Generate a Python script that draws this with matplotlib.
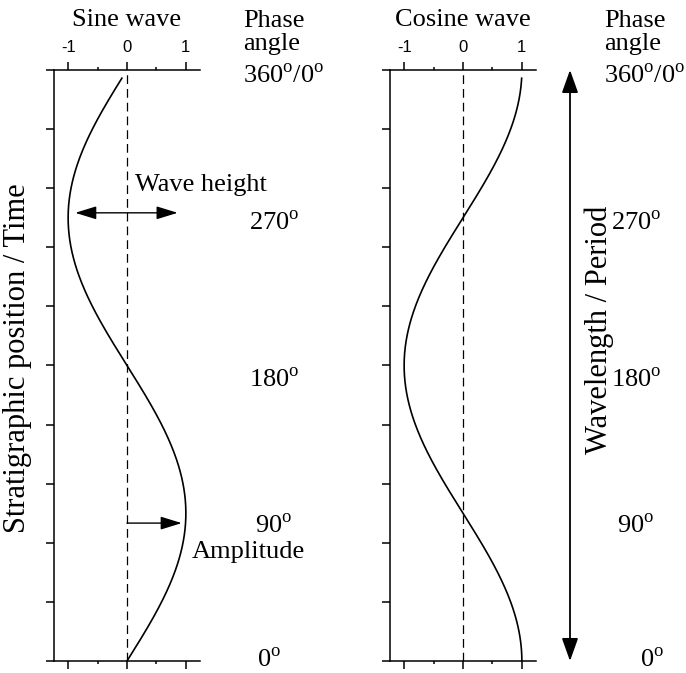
"""
Sine and cosine wave: phase angle vs. stratigraphic position
"""

import numpy as np
import matplotlib.pyplot as plt
import matplotlib.transforms as mtransforms

plt.rcParams["font.family"] = ["Liberation Serif", "DejaVu Serif"]
plt.rcParams["mathtext.fontset"] = "custom"
plt.rcParams["mathtext.rm"] = "Liberation Serif"
plt.rcParams["axes.unicode_minus"] = False

W, H = 686, 673

# phase angle (degrees) and the two waves
phase_deg = np.linspace(0, 355, 400)
sine_vals = np.sin(np.radians(phase_deg))
cosine_vals = np.cos(np.radians(phase_deg))

amp_ticks = [-1, 0, 1]
amp_labels = ["-1", "0", "1"]
amp_minor = [-0.5, 0.5]
phase_ticks = np.arange(0, 361, 36)

# phase labels (text, baseline y in px)
phase_labels = ["360$^{\\mathrm{o}}$/0$^{\\mathrm{o}}$", "270$^{\\mathrm{o}}$",
                "180$^{\\mathrm{o}}$", "90$^{\\mathrm{o}}$", "0$^{\\mathrm{o}}$"]
phase_label_y = [83, 230, 387, 533, 667]

wave_height_phase = 273
amplitude_phase = 84

SERIF = 19


def fx(px):
    return px / W


def fy(py):
    return 1 - py / H


fig = plt.figure(figsize=(W / 100, H / 100), dpi=100)

ax1 = fig.add_axes([fx(54), fy(661), (200 - 54) / W, (661 - 70) / H])
ax2 = fig.add_axes([fx(390), fy(661), (536 - 390) / W, (661 - 70) / H])

for ax, vals, title in [(ax1, sine_vals, "Sine wave"), (ax2, cosine_vals, "Cosine wave")]:
    ax.plot(vals, phase_deg, color="k", lw=1.2)
    ax.axvline(0, color="k", lw=0.9, dashes=(7, 4))
    ax.set_xlim(-1.24, 1.24)
    ax.set_ylim(0, 360)
    ax.spines["right"].set_visible(False)
    for s in ["left", "top", "bottom"]:
        ax.spines[s].set_linewidth(1.1)
    ax.set_xticks(amp_ticks)
    ax.set_xticks(amp_minor, minor=True)
    ax.tick_params(axis="x", which="both", top=True, bottom=True, labeltop=True,
                   labelbottom=False, direction="out", width=1.1)
    ax.tick_params(axis="x", which="major", length=6, pad=5)
    ax.tick_params(axis="x", which="minor", length=2)
    ax.set_xticklabels(amp_labels, family="Liberation Sans", fontsize=12)
    for t in ax.xaxis.get_major_ticks():
        t.label2.set_fontsize(12)
        t.label2.set_family("Liberation Sans")
    ax.set_yticks(phase_ticks)
    ax.tick_params(axis="y", left=True, right=False, labelleft=False,
                   direction="out", length=6, width=1.1)
    tr = mtransforms.blended_transform_factory(ax.transData, fig.transFigure)
    ax.text(0, fy(26), title, transform=tr, ha="center", va="baseline", fontsize=SERIF)

# phase angle columns
for ax, x_head, x_lab, x_zero in [(ax1, 243, 274, 269), (ax2, 604, 636, 652)]:
    fig.text(fx(x_head), fy(27), "Phase", ha="left", va="baseline", fontsize=SERIF)
    fig.text(fx(x_head), fy(50), "angle", ha="left", va="baseline", fontsize=SERIF)
    for i, (lab, y) in enumerate(zip(phase_labels, phase_label_y)):
        if i == 0:
            fig.text(fx(x_head), fy(y), lab, ha="left", va="baseline", fontsize=SERIF)
        elif i == len(phase_labels) - 1:
            fig.text(fx(x_zero), fy(y), lab, ha="center", va="baseline", fontsize=SERIF)
        else:
            fig.text(fx(x_lab), fy(y), lab, ha="center", va="baseline", fontsize=SERIF)

# wave height / amplitude annotations
ax1.annotate("", xy=(-0.88, wave_height_phase), xytext=(0.86, wave_height_phase),
             arrowprops=dict(arrowstyle="<|-|>,head_length=0.65,head_width=0.2",
                             mutation_scale=20, lw=1, color="k", shrinkA=0, shrinkB=0))
ax1.text(0.13, 286, "Wave height", ha="left", va="baseline", fontsize=SERIF)
ax1.annotate("", xy=(0.93, amplitude_phase), xytext=(0, amplitude_phase),
             arrowprops=dict(arrowstyle="-|>,head_length=0.65,head_width=0.2",
                             mutation_scale=20, lw=1, color="k", shrinkA=0, shrinkB=0))
ax1.text(1.1, 63, "Amplitude", ha="left", va="baseline", fontsize=SERIF, clip_on=False)

# wavelength arrow
tr2 = mtransforms.blended_transform_factory(fig.transFigure, ax2.transData)
ax2.annotate("", xy=(fx(570), 360), xytext=(fx(570), 0), xycoords=tr2, textcoords=tr2,
             arrowprops=dict(arrowstyle="<|-|>,head_length=0.7,head_width=0.25",
                             mutation_scale=20, lw=1.3, color="k", shrinkA=0, shrinkB=0),
             annotation_clip=False)

fig.text(fx(18), fy(358), "Stratigraphic position / Time", rotation=90,
         ha="center", va="center", fontsize=22)
fig.text(fx(599), fy(330), "Wavelength / Period", rotation=90,
         ha="center", va="center", fontsize=22)

fig.savefig("out.png", dpi=100)
